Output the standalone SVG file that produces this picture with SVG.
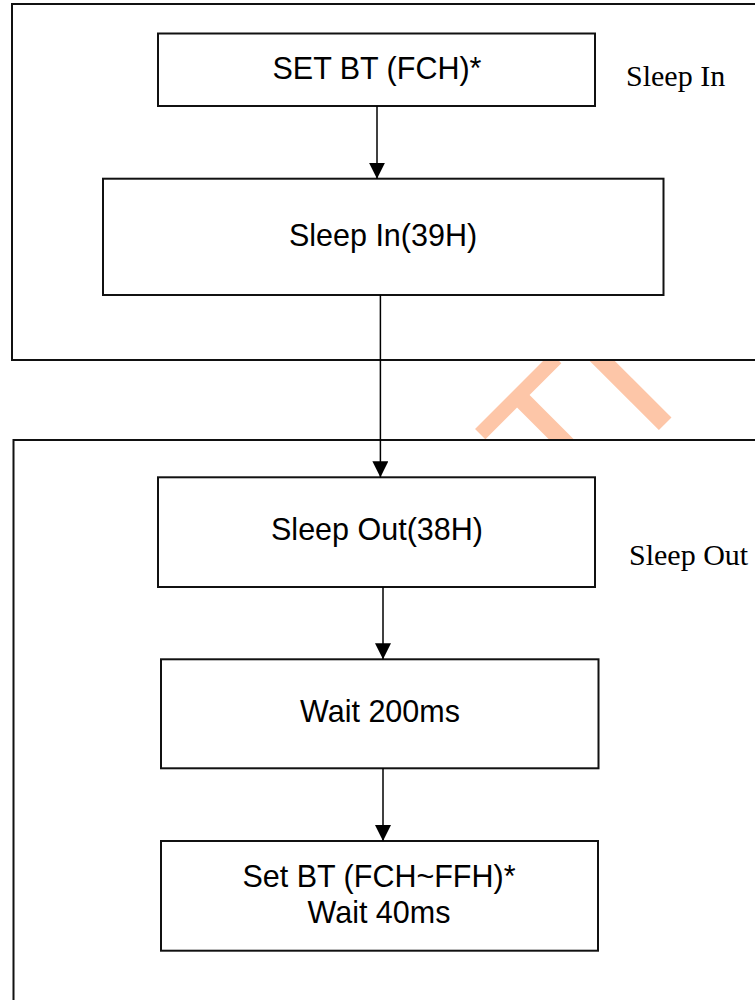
<svg xmlns="http://www.w3.org/2000/svg" width="755" height="1000" viewBox="0 0 755 1000">
  <style>
    .frame { fill: #ffffff; stroke: #111111; stroke-width: 2; }
    .box { fill: #ffffff; stroke: #111111; stroke-width: 2; }
    .boxtext { font-family: "Liberation Sans", Arial, sans-serif; font-size: 30.5px; fill: #000000; text-anchor: middle; }
    .label { font-family: "Liberation Serif", "Times New Roman", serif; font-size: 30px; fill: #000000; }
    .wire { fill: none; stroke: #000000; stroke-width: 1.5; marker-end: url(#arrow); }
    .wm { font-family: "Liberation Sans", Arial, sans-serif; font-size: 190px; fill: #FDC6A8; }
  </style>
  <defs>
    <marker id="arrow" markerUnits="userSpaceOnUse" markerWidth="16" markerHeight="16" refX="16" refY="8" orient="auto">
      <path d="M0,0 L16,8 L0,16 Z" fill="#000000"/>
    </marker>
  </defs>

  <rect width="755" height="1000" fill="#ffffff"/>

  <!-- background watermark letters, partly hidden behind the white frames -->
  <text id="watermark" class="wm" transform="rotate(-45)" x="-109" y="770">NTI</text>

  <!-- sleep-in stage -->
  <g id="frame-sleep-in">
    <rect class="frame" x="12" y="4" width="800" height="356"/>
    <text class="label" x="626" y="86">Sleep In</text>
  </g>

  <!-- sleep-out stage -->
  <g id="frame-sleep-out">
    <rect class="frame" x="13.5" y="440" width="800" height="600"/>
    <text class="label" x="629" y="565">Sleep Out</text>
  </g>

  <g id="set-bt">
    <rect class="box" x="158" y="33.5" width="437" height="72.5"/>
    <text class="boxtext" x="377" y="79">SET BT (FCH)*</text>
  </g>

  <g id="sleep-in-cmd">
    <rect class="box" x="103" y="178.7" width="560.5" height="116.3"/>
    <text class="boxtext" x="383" y="246">Sleep In(39H)</text>
  </g>

  <g id="sleep-out-cmd">
    <rect class="box" x="158" y="477.3" width="437" height="109.7"/>
    <text class="boxtext" x="377" y="540">Sleep Out(38H)</text>
  </g>

  <g id="wait-200">
    <rect class="box" x="161" y="659.3" width="437.5" height="109"/>
    <text class="boxtext" x="380" y="721.7">Wait 200ms</text>
  </g>

  <g id="set-bt-range">
    <rect class="box" x="161" y="841" width="437" height="109.7"/>
    <text class="boxtext" x="379" y="886.7" textLength="273" lengthAdjust="spacingAndGlyphs">Set BT (FCH~FFH)*</text>
    <text class="boxtext" x="379" y="923.3">Wait 40ms</text>
  </g>

  <g id="connectors">
    <line class="wire" x1="377" y1="106" x2="377" y2="178.7"/>
    <line class="wire" x1="380.4" y1="295" x2="380.4" y2="477.3"/>
    <line class="wire" x1="383" y1="587" x2="383" y2="659.3"/>
    <line class="wire" x1="383" y1="768.3" x2="383" y2="841"/>
  </g>
</svg>
